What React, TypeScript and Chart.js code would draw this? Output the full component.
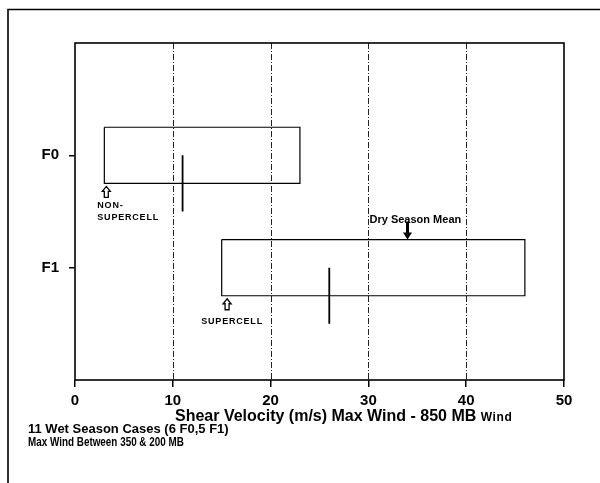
import { useEffect, useRef } from "react";
import { Chart, registerables } from "chart.js";

Chart.register(...registerables);

// ---- data ----
const categories = ["F0", "F1"];
const categoryPos = [1, 2];
const boxLow = [3, 15];
const boxHigh = [23, 46];
const medians = [11, 26];
const xTicks = [0, 10, 20, 30, 40, 50];
const dryMeanX = 34;
const dryMeanLabel = "Dry Season Mean";
const groupLabels = [["NON-", "SUPERCELL"], ["SUPERCELL"]];
const groupArrowX = [3.2, 15.55];
const axisTitle = "Shear Velocity (m/s) Max Wind - 850 MB";
const axisTitleSuffix = "Wind";
const notes = ["11 Wet Season Cases (6 F0,5 F1)", "Max Wind Between 350 & 200 MB"];

const BOX_HALF = 0.25;
const FONT = "'Liberation Sans', Arial, Helvetica, sans-serif";

function hollowUpArrow(ctx: CanvasRenderingContext2D, cx: number, tip: number) {
  const hw = 4, sw = 2, hh = 5, sh = 6;
  ctx.beginPath();
  ctx.moveTo(cx, tip);
  ctx.lineTo(cx + hw, tip + hh);
  ctx.lineTo(cx + sw, tip + hh);
  ctx.lineTo(cx + sw, tip + hh + sh);
  ctx.lineTo(cx - sw, tip + hh + sh);
  ctx.lineTo(cx - sw, tip + hh);
  ctx.lineTo(cx - hw, tip + hh);
  ctx.closePath();
  ctx.fillStyle = "#fff";
  ctx.fill();
  ctx.lineWidth = 1.3;
  ctx.strokeStyle = "#000";
  ctx.stroke();
}

function solidDownArrow(ctx: CanvasRenderingContext2D, cx: number, tip: number) {
  ctx.fillStyle = "#000";
  ctx.fillRect(cx - 1.5, tip - 18, 3, 12);
  ctx.beginPath();
  ctx.moveTo(cx - 4.5, tip - 7);
  ctx.lineTo(cx + 4.5, tip - 7);
  ctx.lineTo(cx, tip);
  ctx.closePath();
  ctx.fill();
}

const decorPlugin = {
  id: "decor",
  beforeDatasetsDraw(chart: any) {
    const { ctx, chartArea, scales } = chart;
    const xs = scales.x;
    ctx.save();
    ctx.strokeStyle = "#222";
    ctx.lineWidth = 1;
    ctx.setLineDash([6, 2, 1, 2]);
    xTicks.slice(1, -1).forEach((v) => {
      const px = Math.round(xs.getPixelForValue(v)) + 0.5;
      ctx.beginPath();
      ctx.moveTo(px, chartArea.top);
      ctx.lineTo(px, chartArea.bottom);
      ctx.stroke();
    });
    ctx.restore();
  },
  afterDatasetsDraw(chart: any) {
    const { ctx, chartArea, scales } = chart;
    const xs = scales.x;
    const ys = scales.y;
    ctx.save();
    // plot frame
    ctx.setLineDash([]);
    ctx.strokeStyle = "#000";
    ctx.lineWidth = 1.6;
    ctx.strokeRect(chartArea.left, chartArea.top, chartArea.right - chartArea.left, chartArea.bottom - chartArea.top);
    // outer figure border (top and left)
    ctx.lineWidth = 1.6;
    ctx.beginPath();
    ctx.moveTo(8, chart.height);
    ctx.lineTo(8, 9.5);
    ctx.lineTo(chart.width, 9.5);
    ctx.stroke();

    // group arrows and labels
    ctx.fillStyle = "#000";
    groupLabels.forEach((lines, i) => {
      const ax = xs.getPixelForValue(groupArrowX[i]);
      const tip = ys.getPixelForValue(categoryPos[i] + BOX_HALF) + 3;
      hollowUpArrow(ctx, ax, tip);
      ctx.fillStyle = "#000";
      ctx.font = `bold 9px ${FONT}`;
      (ctx as any).letterSpacing = "0.8px";
      ctx.textBaseline = "alphabetic";
      lines.forEach((t, j) => {
        if (i === 0) {
          ctx.textAlign = "left";
          ctx.fillText(t, ax - 9, tip + 22 + j * 12);
        } else {
          ctx.textAlign = "center";
          ctx.fillText(t, ax + 5, tip + 25 + j * 12);
        }
      });
    });

    // dry season mean
    const dx = xs.getPixelForValue(dryMeanX);
    const dTip = ys.getPixelForValue(categoryPos[1] - BOX_HALF);
    solidDownArrow(ctx, dx, dTip);
    ctx.font = `bold 11px ${FONT}`;
    (ctx as any).letterSpacing = "0px";
    ctx.textAlign = "left";
    ctx.fillText(dryMeanLabel, dx - 38, dTip - 17);

    // axis title
    ctx.font = `bold 16px ${FONT}`;
    ctx.textAlign = "left";
    const tx = 175;
    ctx.fillText(axisTitle, tx, 421);
    const w = ctx.measureText(axisTitle + " ").width;
    ctx.font = `bold 12px ${FONT}`;
    (ctx as any).letterSpacing = "0.6px";
    ctx.fillText(axisTitleSuffix, tx + w, 421);
    (ctx as any).letterSpacing = "0px";

    // notes
    ctx.font = `bold 13px ${FONT}`;
    ctx.fillText(notes[0], 28, 433);
    ctx.save();
    ctx.translate(28, 446);
    ctx.scale(0.76, 1);
    ctx.fillText(notes[1], 0, 0);
    ctx.restore();
    ctx.restore();
  },
};

export default function App() {
  const ref = useRef<HTMLCanvasElement | null>(null);
  useEffect(() => {
    document.body.style.margin = "0";
    const canvas = ref.current;
    if (!canvas) return;
    const datasets: any[] = [];
    categories.forEach((c, i) => {
      const p = categoryPos[i];
      datasets.push({
        label: c + " range",
        data: [
          { x: boxLow[i], y: p - BOX_HALF },
          { x: boxHigh[i], y: p - BOX_HALF },
          { x: boxHigh[i], y: p + BOX_HALF },
          { x: boxLow[i], y: p + BOX_HALF },
          { x: boxLow[i], y: p - BOX_HALF },
        ],
        showLine: true,
        borderColor: "#000",
        borderWidth: 1.2,
        pointRadius: 0,
        fill: false,
        tension: 0,
      });
      datasets.push({
        label: c + " median",
        data: [
          { x: medians[i], y: p },
          { x: medians[i], y: p + 2 * BOX_HALF },
        ],
        showLine: true,
        borderColor: "#000",
        borderWidth: 1.8,
        pointRadius: 0,
        fill: false,
      });
    });
    const chart = new Chart(canvas, {
      type: "scatter",
      data: { datasets },
      options: {
        animation: false,
        responsive: false,
        devicePixelRatio: 1,
        layout: { padding: { left: 0, right: 36, top: 43, bottom: 0 } },
        plugins: { legend: { display: false }, tooltip: { enabled: false } },
        scales: {
          x: {
            type: "linear",
            min: 0,
            max: 50,
            afterBuildTicks: (s: any) => {
              s.ticks = xTicks.map((v) => ({ value: v }));
            },
            afterFit: (s: any) => {
              s.height = 103;
            },
            ticks: {
              color: "#000",
              padding: 5,
              font: { family: FONT, size: 15, weight: "bold" },
              callback: (v: any) => String(v),
            },
            grid: { drawOnChartArea: false, drawTicks: true, tickLength: 7, color: "#000", lineWidth: 1.5 },
            border: { display: false },
          },
          y: {
            type: "linear",
            min: 0,
            max: 3,
            reverse: true,
            afterBuildTicks: (s: any) => {
              s.ticks = categoryPos.map((v) => ({ value: v }));
            },
            afterFit: (s: any) => {
              s.width = 75;
            },
            ticks: {
              color: "#000",
              padding: 10,
              font: { family: FONT, size: 15, weight: "bold" },
              callback: (v: any) => {
                const k = categoryPos.indexOf(Number(v));
                return k >= 0 ? categories[k] : "";
              },
            },
            grid: { drawOnChartArea: false, drawTicks: true, tickLength: 6, color: "#000", lineWidth: 1.5 },
            border: { display: false },
          },
        },
      } as any,
      plugins: [decorPlugin],
    });
    return () => chart.destroy();
  }, []);
  return (
    <div style={{ width: 600, height: 483, background: "#fff" }}>
      <canvas ref={ref} width={600} height={483} style={{ display: "block" }} />
    </div>
  );
}
